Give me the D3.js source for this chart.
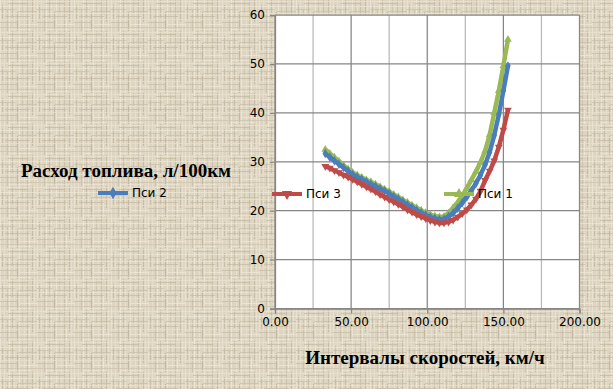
<!DOCTYPE html>
<html>
<head>
    <meta charset="utf-8" />
    <title>Расход топлива</title>
    <style>
        body { margin: 0; }
        svg { display: block; }
    </style>
    <script type="text/javascript" src="https://cdn.jsdelivr.net/npm/d3@7"></script>
</head>
<body>
    <div id="svg"></div>

    <script type="text/javascript">
        // speeds, km/h
        var speeds = [33, 36, 39, 42, 45, 48, 51, 54, 57, 60, 63, 66, 69, 72, 75, 78, 81, 84, 87, 90,
            93, 96, 99, 102, 105, 108, 111, 114, 117, 120, 123, 126, 129, 132, 135, 138, 141, 144, 147, 150, 153];

        var psi1 = [32.5, 31.7, 30.9, 30.1, 29.3, 28.5, 27.8, 27.3, 26.8, 26.3, 25.9, 25.4, 24.9, 24.4, 23.9, 23.3,
            22.8, 22.2, 21.7, 21.1, 20.6, 20.1, 19.6, 19.2, 18.9, 18.7, 18.8, 19.5, 20.6, 21.7, 23.0, 24.6,
            26.3, 28.0, 29.9, 32.2, 35.5, 40.0, 44.5, 49.6, 55.0];

        var psi2 = [31.7, 30.9, 30.2, 29.5, 28.8, 28.1, 27.4, 26.9, 26.4, 25.9, 25.4, 25.0, 24.5, 24.0, 23.5, 22.9,
            22.4, 21.8, 21.2, 20.7, 20.1, 19.6, 19.1, 18.7, 18.4, 18.2, 18.3, 18.8, 19.5, 20.5, 21.6, 22.8,
            24.1, 25.6, 27.3, 29.4, 32.0, 35.4, 39.6, 44.5, 49.6];

        var psi3 = [29.1, 28.7, 28.2, 27.8, 27.3, 26.9, 26.4, 25.9, 25.4, 24.9, 24.4, 23.9, 23.3, 22.8, 22.3, 21.8,
            21.3, 20.8, 20.2, 19.7, 19.2, 18.8, 18.4, 18.0, 17.7, 17.5, 17.5, 17.7, 18.1, 18.7, 19.4, 20.2,
            21.2, 22.4, 24.0, 26.2, 28.1, 30.2, 33.0, 36.5, 40.6];

        var seriesNames = ['Пси 1', 'Пси 2', 'Пси 3'];
        var xTicks = [0, 50, 100, 150, 200];
        var yTicks = [0, 10, 20, 30, 40, 50, 60];

        var width = 613,
            height = 389;

        var series = [
            { name: seriesNames[0], values: psi1, color: '#98b954', symbol: d3.symbolTriangle, rot: 0 },
            { name: seriesNames[1], values: psi2, color: '#4a7ebb', symbol: d3.symbolDiamond, rot: 0 },
            { name: seriesNames[2], values: psi3, color: '#be4b48', symbol: d3.symbolTriangle, rot: 180 }
        ];

        var svg = d3.select('#svg')
            .append('svg')
            .attr('width', width)
            .attr('height', height);

        // canvas-like texture for the background
        var defs = svg.append('defs');
        var tw = 37, th = 31;
        var pat = defs.append('pattern')
            .attr('id', 'canvas')
            .attr('width', tw)
            .attr('height', th)
            .attr('patternUnits', 'userSpaceOnUse');
        pat.append('rect').attr('width', tw).attr('height', th).attr('fill', '#ddd5c2');
        // vertical threads: x, y, length, colour
        [[0, 0, 31, '#ebe4d2'], [2, 5, 14, '#c4b9a2'], [4, 0, 31, '#e7e0cc'], [7, 10, 21, '#cbc1ab'],
         [9, 0, 31, '#efe9d8'], [12, 0, 18, '#c6bba4'], [14, 3, 28, '#e9e2cf'], [17, 12, 19, '#bfb49d'],
         [19, 0, 31, '#ece5d3'], [22, 0, 13, '#cdc3ad'], [24, 6, 25, '#e6dfcb'], [27, 0, 31, '#c8bda7'],
         [29, 15, 16, '#eee8d7'], [32, 0, 22, '#c3b8a1'], [34, 0, 31, '#e8e1ce']]
            .forEach(function(d) {
                pat.append('rect').attr('x', d[0]).attr('y', d[1]).attr('width', 1).attr('height', d[2])
                    .attr('fill', d[3]).attr('opacity', 0.85);
            });
        // horizontal threads
        [[1, 0, 37, '#e9e2cf'], [3, 8, 20, '#c5baa3'], [6, 0, 37, '#ece6d4'], [9, 0, 15, '#cbc0aa'],
         [11, 18, 19, '#c9beA8'], [13, 0, 37, '#eae3d0'], [16, 5, 25, '#c4b9a2'], [19, 0, 37, '#e7e0cc'],
         [22, 0, 17, '#c7bca6'], [24, 20, 17, '#eee8d7'], [27, 0, 37, '#cdc3ad'], [29, 10, 22, '#ebe4d2']]
            .forEach(function(d) {
                pat.append('rect').attr('x', d[1]).attr('y', d[0]).attr('width', d[2]).attr('height', 1)
                    .attr('fill', d[3]).attr('opacity', 0.75);
            });

        svg.append('rect')
            .attr('width', width)
            .attr('height', height)
            .attr('fill', 'url(#canvas)');

        var xScale = d3.scaleLinear()
            .domain([0, 200])
            .range([275, 579.5]);

        var yScale = d3.scaleLinear()
            .domain([0, 60])
            .range([308.5, 15]);

        // plot area
        svg.append('rect')
            .attr('x', xScale(0))
            .attr('y', yScale(60))
            .attr('width', xScale(200) - xScale(0))
            .attr('height', yScale(0) - yScale(60))
            .attr('fill', '#fff');

        // minor vertical grid
        svg.append('g').selectAll('line')
            .data(d3.range(25, 200, 50))
            .enter()
            .append('line')
            .attr('x1', d => xScale(d)).attr('x2', d => xScale(d))
            .attr('y1', yScale(0)).attr('y2', yScale(60))
            .attr('stroke', '#b8b8b8')
            .attr('stroke-width', 1.25);

        // major grid
        svg.append('g').selectAll('line')
            .data(xTicks)
            .enter()
            .append('line')
            .attr('x1', d => xScale(d)).attr('x2', d => xScale(d))
            .attr('y1', yScale(0)).attr('y2', yScale(60))
            .attr('stroke', '#868686')
            .attr('stroke-width', 1.25);

        svg.append('g').selectAll('line')
            .data(yTicks)
            .enter()
            .append('line')
            .attr('x1', xScale(0)).attr('x2', xScale(200))
            .attr('y1', d => yScale(d)).attr('y2', d => yScale(d))
            .attr('stroke', '#868686')
            .attr('stroke-width', 1.25);

        var xAxis = d3.axisBottom(xScale)
            .tickValues(xTicks)
            .tickSize(5)
            .tickPadding(4)
            .tickFormat(d3.format('.2f'));

        var yAxis = d3.axisLeft(yScale)
            .tickValues(yTicks)
            .tickSize(5)
            .tickPadding(5)
            .tickFormat(d3.format('d'));

        var gX = svg.append('g')
            .attr('transform', 'translate(0, ' + yScale(0) + ')')
            .call(xAxis);

        var gY = svg.append('g')
            .attr('transform', 'translate(' + xScale(0) + ', 0)')
            .call(yAxis);

        [gX, gY].forEach(function(g) {
            g.select('.domain').attr('stroke', '#868686').attr('stroke-width', 1.25);
            g.selectAll('.tick line').attr('stroke', '#868686').attr('stroke-width', 1.25);
            g.selectAll('.tick text')
                .attr('fill', '#000')
                .style('font-family', '"DejaVu Sans", sans-serif')
                .style('font-size', '12px');
        });

        var line = d3.line()
            .x((d, i) => xScale(speeds[i]))
            .y(d => yScale(d));

        series.forEach(function(s) {
            var g = svg.append('g');
            g.append('path')
                .datum(s.values)
                .attr('d', line)
                .attr('fill', 'none')
                .attr('stroke', s.color)
                .attr('stroke-width', 4.5)
                .attr('stroke-linejoin', 'round');
            g.selectAll('path.mk')
                .data(s.values)
                .enter()
                .append('path')
                .attr('class', 'mk')
                .attr('d', d3.symbol().type(s.symbol).size(26))
                .attr('transform', (d, i) => 'translate(' + xScale(speeds[i]) + ',' + yScale(d) + ') rotate(' + s.rot + ')')
                .attr('fill', s.color);
        });

        // legend entries, scattered as in the source
        var legendPos = [
            { x: 444, y: 194 },
            { x: 98, y: 193 },
            { x: 272, y: 194 }
        ];

        series.forEach(function(s, i) {
            var p = legendPos[i];
            var g = svg.append('g').attr('transform', 'translate(' + p.x + ',' + p.y + ')');
            g.append('line')
                .attr('x1', 0).attr('x2', 30)
                .attr('stroke', s.color)
                .attr('stroke-width', 4);
            g.append('path')
                .attr('d', d3.symbol().type(s.symbol).size(45))
                .attr('transform', 'translate(15,0) rotate(' + s.rot + ')')
                .attr('fill', s.color);
            g.append('text')
                .attr('x', 34)
                .attr('dy', '0.35em')
                .style('font-family', '"DejaVu Sans", sans-serif')
                .style('font-size', '12px')
                .text(s.name);
        });

        // axis titles
        svg.append('text')
            .attr('x', 126)
            .attr('y', 177)
            .attr('text-anchor', 'middle')
            .style('font-family', '"Liberation Serif", "Times New Roman", serif')
            .style('font-weight', 'bold')
            .style('font-size', '19px')
            .text('Расход топлива, л/100км');

        svg.append('text')
            .attr('x', 425)
            .attr('y', 364)
            .attr('text-anchor', 'middle')
            .style('font-family', '"Liberation Serif", "Times New Roman", serif')
            .style('font-weight', 'bold')
            .style('font-size', '19px')
            .text('Интервалы скоростей, км/ч');
    </script>
</body>
</html>
